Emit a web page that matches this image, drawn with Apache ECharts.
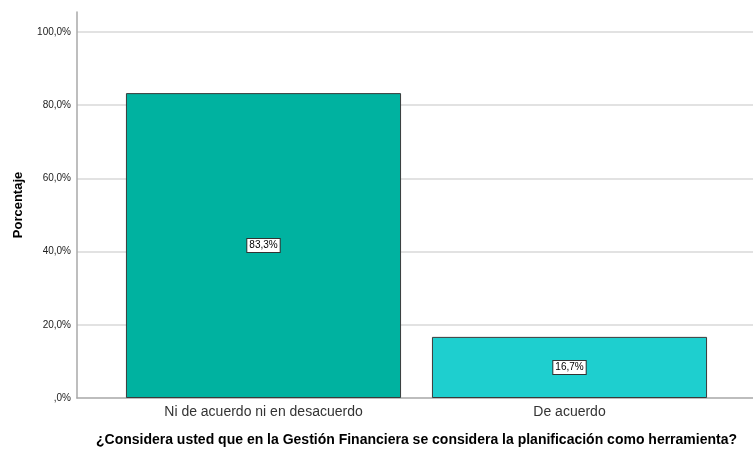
<!DOCTYPE html>
<html>
<head>
<meta charset="utf-8">
<script src="https://cdn.jsdelivr.net/npm/echarts@6/dist/echarts.min.js"></script>
<style>html,body{margin:0;padding:0;background:#fff}#main{width:753px;height:450px}</style>
</head>
<body>
<div id="main"></div>
<script>
const categories = ['Ni de acuerdo ni en desacuerdo', 'De acuerdo'];
const values = [83.3, 16.7];
const colors = ['#00b2a0', '#1ecfcf'];
const yTicks = [0, 20, 40, 60, 80, 100];

var myChart = echarts.init(document.getElementById('main'), null, { renderer: 'canvas' });
// axis line runs a bit above 100%, like the SPSS output
const yMax = 100 * 386 / 366;

let option = {
  backgroundColor: '#fff',
  animation: false,
  grid: [
    { left: 77, right: 0, top: 12, bottom: 52, outerBoundsMode: 'none' },
    { left: 110.5, right: 30.5, top: 12, bottom: 52, outerBoundsMode: 'none' }
  ],
  xAxis: [
    {
      gridIndex: 0, type: 'value', min: 0, max: 1,
      axisLine: { show: true, lineStyle: { color: '#a8a8a8', width: 1.5 } },
      axisTick: { show: false }, axisLabel: { show: false }, splitLine: { show: false }
    },
    {
      gridIndex: 1, type: 'category', data: categories,
      axisLine: { show: false }, axisTick: { show: false },
      axisLabel: { color: '#333', fontSize: 14, fontFamily: 'Arial, Liberation Sans', margin: 7 },
      name: '¿Considera usted que en la Gestión Financiera se considera la planificación como herramienta?',
      nameLocation: 'middle', nameGap: 35,
      nameTextStyle: { color: '#000', fontSize: 14, fontWeight: 'bold', fontFamily: 'Arial, Liberation Sans' }
    }
  ],
  yAxis: [
    {
      gridIndex: 0, type: 'value', min: 0, max: yMax, interval: 20,
      axisLine: { show: true, lineStyle: { color: '#a8a8a8', width: 1.5 } },
      axisTick: { show: false },
      axisLabel: {
        showMaxLabel: false, color: '#222', fontSize: 10, fontFamily: 'Arial, Liberation Sans', margin: 6,
        formatter: v => yTicks.includes(v) ? (v === 0 ? ',0%' : v.toFixed(1).replace('.', ',') + '%') : ''
      },
      splitLine: { show: true, showMinLine: false, showMaxLine: false, lineStyle: { color: '#d9d9d9', width: 1.5 } },
      name: 'Porcentaje', nameLocation: 'middle', nameGap: 52,
      nameTextStyle: { color: '#000', fontSize: 13, fontWeight: 'bold', fontFamily: 'Arial, Liberation Sans' }
    },
    {
      gridIndex: 1, type: 'value', min: 0, max: yMax,
      axisLine: { show: false }, axisTick: { show: false }, axisLabel: { show: false }, splitLine: { show: false }
    }
  ],
  series: [
    {
      type: 'bar', xAxisIndex: 1, yAxisIndex: 1,
      barCategoryGap: '10.1%',
      data: values.map((v, i) => ({ value: v, itemStyle: { color: colors[i] } })),
      itemStyle: { borderColor: '#3a3a3a', borderWidth: 1 },
      label: {
        show: true, position: 'inside', color: '#000', fontSize: 10, fontFamily: 'Arial, Liberation Sans',
        backgroundColor: '#fff', borderColor: '#333', borderWidth: 1, padding: [2, 2, 1, 2],
        formatter: p => p.value.toFixed(1).replace('.', ',') + '%'
      }
    }
  ]
};
option && myChart.setOption(option);
</script>
</body>
</html>
